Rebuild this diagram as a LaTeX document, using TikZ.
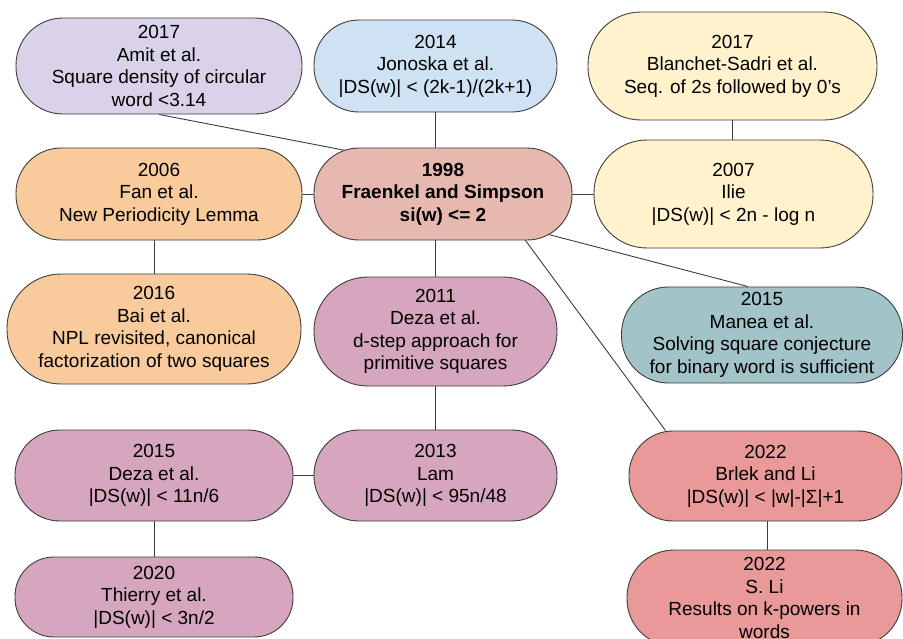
\documentclass[tikz,border=0pt]{standalone}
\usepackage{fontspec}
\setmainfont{Liberation Sans}
\usetikzlibrary{backgrounds,calc}
\definecolor{bordc}{HTML}{3C3C3C}
\definecolor{cpurple}{HTML}{D9D2E9}
\definecolor{cblue}{HTML}{CFE2F3}
\definecolor{cyellow}{HTML}{FFF2CC}
\definecolor{corange}{HTML}{F9CB9C}
\definecolor{cberry}{HTML}{E6B8AF}
\definecolor{cmagenta}{HTML}{D5A6BD}
\definecolor{ccyan}{HTML}{A2C4C9}
\definecolor{cred}{HTML}{EA9999}
\tikzset{
  box/.style={draw=bordc, line width=0.9pt, align=center, inner sep=0pt,
    font=\fontsize{19}{22.5}\selectfont},
  conn/.style={draw=bordc, line width=0.9pt},
}
\begin{document}
\begin{tikzpicture}[x=1pt,y=-1pt]
\useasboundingbox (0,0) rectangle (903,638);
% row 1
\node[box, fill=cpurple, minimum width=286pt, minimum height=96pt, rounded corners=47pt] (amit) at (159,66)
  {2017\\Amit et al.\\Square density of circular\\word <3.14};
\node[box, fill=cblue, minimum width=243pt, minimum height=92pt, rounded corners=45pt] (jon) at (435.5,66)
  {2014\\Jonoska et al.\\|DS(w)| < (2k-1)/(2k+1)};
\node[box, fill=cyellow, minimum width=289pt, minimum height=108pt, rounded corners=53pt] (bla) at (732.5,66)
  {2017\\Blanchet-Sadri et al.\\Seq. of 2s followed by 0’s};
% row 2
\node[box, fill=corange, minimum width=286pt, minimum height=92pt, rounded corners=45pt] (fan) at (159,194)
  {2006\\Fan et al.\\New Periodicity Lemma};
\node[box, fill=cberry, minimum width=258pt, minimum height=92pt, rounded corners=45pt, font=\fontsize{19}{22.5}\selectfont\bfseries] (fs) at (443,194)
  {1998\\Fraenkel and Simpson\\si(w) <= 2};
\node[box, fill=cyellow, minimum width=279pt, minimum height=108pt, rounded corners=53pt] (ilie) at (733.5,194)
  {2007\\Ilie\\|DS(w)| < 2n - log n};
% row 3
\node[box, fill=corange, minimum width=294pt, minimum height=110pt, rounded corners=54pt] (bai) at (154,329)
  {2016\\Bai et al.\\NPL revisited, canonical\\factorization of two squares};
\node[box, fill=cmagenta, minimum width=243pt, minimum height=109pt, rounded corners=54pt] (d11) at (435.5,331.5)
  {2011\\Deza et al.\\d-step approach for\\primitive squares};
\node[box, fill=ccyan, minimum width=281pt, minimum height=96pt, rounded corners=47pt] (man) at (762,335)
  {2015\\Manea et al.\\Solving square conjecture\\for binary word is sufficient};
% row 4
\node[box, fill=cmagenta, minimum width=278pt, minimum height=91pt, rounded corners=45pt] (d15) at (154,475.5)
  {2015\\Deza et al.\\|DS(w)| < 11n/6};
\node[box, fill=cmagenta, minimum width=243pt, minimum height=91pt, rounded corners=45pt] (lam) at (435.5,475.5)
  {2013\\Lam\\|DS(w)| < 95n/48};
\node[box, fill=cred, minimum width=273pt, minimum height=90pt, rounded corners=44pt] (brl) at (765.5,476)
  {2022\\Brlek and Li\\|DS(w)| < |w|-|Σ|+1};
% row 5
\node[box, fill=cmagenta, minimum width=278pt, minimum height=80pt, rounded corners=39pt] (thi) at (154,597)
  {2020\\Thierry et al.\\|DS(w)| < 3n/2};
\node[box, fill=cred, minimum width=275pt, minimum height=96pt, rounded corners=47pt] (sli) at (764.5,598)
  {2022\\S. Li\\Results on k-powers in\\words};
% connectors
\begin{pgfonlayer}{background}
\draw[conn] (amit.south) -- ([xshift=-71pt,yshift=-8pt]fs.north);
\draw[conn] (jon.south) -- (jon.south |- fs.north);
\draw[conn] (fan) -- (fs);
\draw[conn] (fs) -- (ilie);
\draw[conn] (bla.south) -- (bla.south |- ilie.north);
\draw[conn] (bai.north) -- (bai.north |- fan.south);
\draw[conn] (d11.north) -- (d11.north |- fs.south);
\draw[conn] ([xshift=77pt,yshift=-33pt]fs.center) -- ([xshift=-14pt]man.north);
\draw[conn] ([xshift=77pt,yshift=-39pt]fs.center) -- ([xshift=-100pt]brl.north);
\draw[conn] (d11.south) -- (d11.south |- lam.north);
\draw[conn] (d15) -- (lam);
\draw[conn] (d15.south) -- (d15.south |- thi.north);
\draw[conn] ([xshift=2pt]brl.south) -- ([xshift=2pt]brl.south |- sli.north);
\end{pgfonlayer}
\end{tikzpicture}
\end{document}
